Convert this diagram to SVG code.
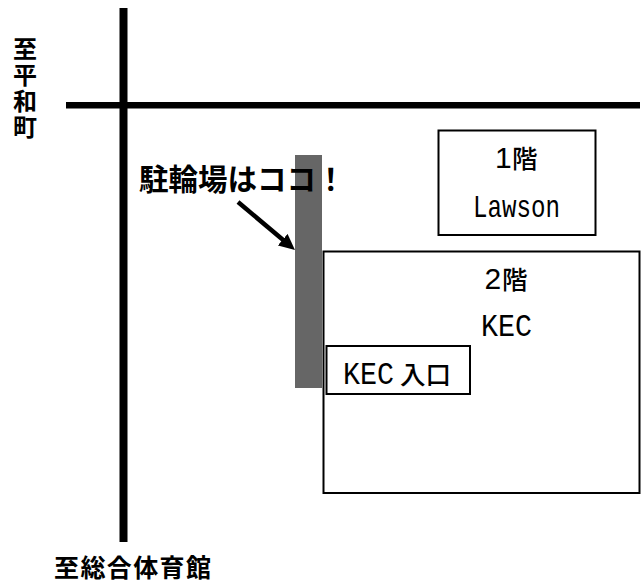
<svg xmlns="http://www.w3.org/2000/svg" width="642" height="582" viewBox="0 0 642 582">
<style>
.jb{font-family:"Noto Sans CJK JP","Liberation Sans",sans-serif;font-weight:700;fill:#000}
.m{font-family:"Liberation Mono",monospace;font-size:32px;fill:#000}
.j{font-family:"Noto Sans CJK JP",sans-serif;font-size:25.500px;font-weight:500;fill:#000}
.d{font-family:"Liberation Sans",sans-serif;font-size:30px;fill:#000}
.box{fill:#fff;stroke:#000;stroke-width:2}
</style>
<defs><marker id="ah" markerUnits="userSpaceOnUse" markerWidth="18" markerHeight="16" refX="1" refY="7.500" orient="auto"><path d="M0 0L16 7.500L0 15z" fill="#000"/></marker></defs>
<rect width="642" height="582" fill="#fff"/>
<g id="roads">
<rect x="119.500" y="8" width="8" height="534" fill="#000"/>
<rect x="66" y="102" width="574" height="6.500" fill="#000"/>
</g>
<g id="bicycle-parking"><rect x="295" y="155" width="27" height="233" fill="#666"/></g>
<g id="lawson">
<rect class="box" x="438.500" y="130.500" width="157" height="104.500"/>
<text class="j" y="168"><tspan class="d" x="495">1</tspan><tspan x="512">階</tspan></text>
<text class="m" x="473" y="217" textLength="87" lengthAdjust="spacingAndGlyphs">Lawson</text>
</g>
<g id="kec">
<rect class="box" x="323.500" y="251.500" width="316" height="241.500"/>
<text class="j" y="289"><tspan class="d" x="484.500">2</tspan><tspan x="502">階</tspan></text>
<text class="m" x="481" y="336" textLength="51" lengthAdjust="spacingAndGlyphs">KEC</text>
</g>
<g id="kec-entrance">
<rect class="box" x="326.500" y="346" width="143.500" height="48"/>
<text class="m" x="343" y="384" textLength="51" lengthAdjust="spacingAndGlyphs">KEC</text>
<text class="j" x="400" y="383.500">入口</text>
</g>
<g id="connectors"><line x1="238" y1="202" x2="283.500" y2="240.300" stroke="#000" stroke-width="4.500" marker-end="url(#ah)"/></g>
<g id="labels">
<text class="jb" x="139" y="190" font-size="29.500">駐輪場はココ！</text>
<text class="jb" font-size="24" x="25" y="37" style="writing-mode:vertical-rl" letter-spacing="2">至平和町</text>
<text class="jb" x="54" y="577" font-size="25" letter-spacing="1.400">至総合体育館</text>
</g>
</svg>
